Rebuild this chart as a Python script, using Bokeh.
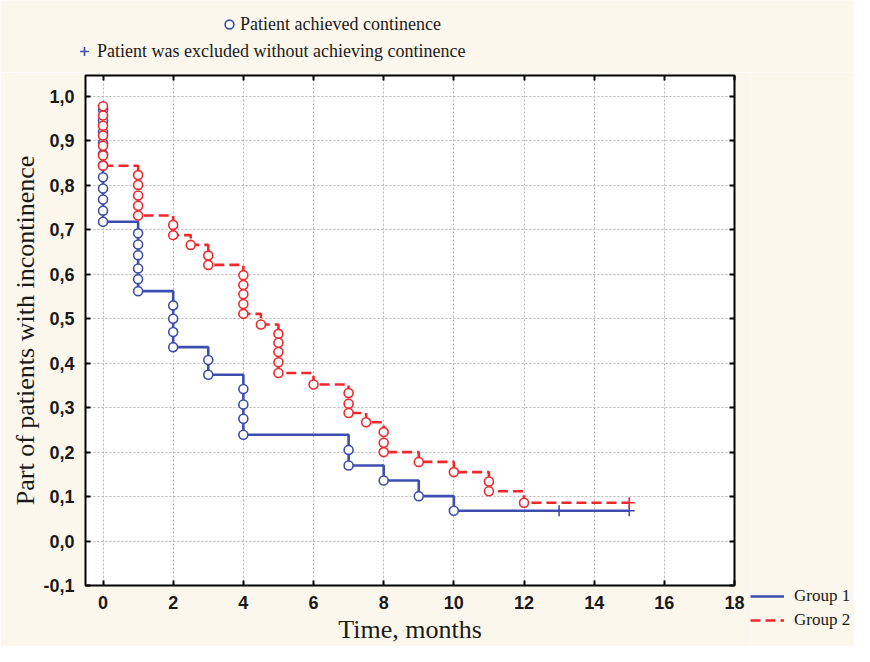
from bokeh.plotting import figure
from bokeh.layouts import column, row
from bokeh.models import (FixedTicker, LinearAxis, Range1d, Legend,
                          LegendItem, CustomJSTickFormatter)
from bokeh.embed import file_html
from bokeh.resources import INLINE

# ---------------- data ----------------
x_ticks = [0, 2, 4, 6, 8, 10, 12, 14, 16, 18]
x_tick_labels = ["0", "2", "4", "6", "8", "10", "12", "14", "16", "18"]
y_ticks = [-0.1, 0.0, 0.1, 0.2, 0.3, 0.4, 0.5, 0.6, 0.7, 0.8, 0.9, 1.0]
y_tick_labels = ["-0,1", "0,0", "0,1", "0,2", "0,3", "0,4", "0,5", "0,6",
                 "0,7", "0,8", "0,9", "1,0"]

# Group 1: step curve (time, proportion after the step)
g1_step_time = [0, 0, 1, 2, 3, 4, 7, 8, 9, 10, 15]
g1_step_surv = [0.970, 0.718, 0.562, 0.436, 0.374, 0.239, 0.170, 0.136,
                0.101, 0.068, 0.068]
# Group 1: patients achieving continence (circles)
g1_event_time = [0] * 11 + [1] * 6 + [2] * 4 + [3] * 2 + [4] * 4 + [7] * 2 + [8, 9, 10]
g1_event_surv = [0.970, 0.945, 0.920, 0.895, 0.870, 0.845, 0.818, 0.793, 0.768, 0.743, 0.718,
                 0.692, 0.667, 0.643, 0.613, 0.589, 0.562,
                 0.530, 0.500, 0.470, 0.436,
                 0.407, 0.374,
                 0.342, 0.307, 0.275, 0.239,
                 0.205, 0.170,
                 0.136, 0.101, 0.068]
# Group 1: excluded (censored)
g1_cens_time = [13, 15]
g1_cens_surv = [0.068, 0.068]

# Group 2: step curve
g2_step_time = [0, 0, 1, 2, 2.5, 3, 4, 4.5, 5, 6, 7, 7.5, 8, 9, 10, 11, 12, 15]
g2_step_surv = [0.978, 0.844, 0.732, 0.688, 0.666, 0.621, 0.511, 0.487, 0.378,
                0.352, 0.288, 0.267, 0.200, 0.178, 0.155, 0.112, 0.086, 0.086]
g2_event_time = ([0] * 7 + [1] * 5 + [2] * 2 + [2.5] + [3] * 2 + [4] * 5 + [4.5]
                 + [5] * 5 + [6] + [7] * 3 + [7.5] + [8] * 3 + [9, 10] + [11] * 2 + [12])
g2_event_surv = [0.978, 0.957, 0.934, 0.912, 0.889, 0.867, 0.844,
                 0.823, 0.801, 0.777, 0.754, 0.732,
                 0.711, 0.688,
                 0.666,
                 0.642, 0.621,
                 0.598, 0.576, 0.555, 0.533, 0.511,
                 0.487,
                 0.466, 0.446, 0.425, 0.402, 0.378,
                 0.352,
                 0.333, 0.309, 0.288,
                 0.267,
                 0.245, 0.221, 0.200,
                 0.178, 0.155,
                 0.134, 0.112,
                 0.086]
g2_cens_time = [15]
g2_cens_surv = [0.086]

group_names = ["Group 1", "Group 2"]
marker_names = ["Patient achieved continence",
                "Patient was excluded without achieving continence"]
x_title = "Time, months"
y_title = "Part of patients with incontinence"

# ---------------- style ----------------
BLUE = "#3D4FAE"
RED = "#F0282C"
CREAM = "#FBF7EC"
SERIF = "Liberation Serif"
SANS = "Liberation Sans"
INK = "#1a1a1a"
LINE_W = 2.6
DASH = "10 5"

# ---------------- main plot ----------------
p = figure(width=750, height=574,
           x_range=Range1d(-0.5, 18), y_range=Range1d(-0.1, 1.047),
           output_backend="svg", toolbar_location=None,
           min_border_left=85, min_border_right=16,
           min_border_top=3, min_border_bottom=60,
           background_fill_color="white", border_fill_color=CREAM,
           outline_line_color="black", outline_line_width=2)

fmt_js = """
for (let i = 0; i < tvals.length; i++) {
  if (Math.abs(tick - tvals[i]) < 1e-9) { return tlabels[i]; }
}
return "";
"""
xfmt = CustomJSTickFormatter(args=dict(tvals=x_ticks, tlabels=x_tick_labels), code=fmt_js)
yfmt = CustomJSTickFormatter(args=dict(tvals=y_ticks, tlabels=y_tick_labels), code=fmt_js)
blank_fmt = CustomJSTickFormatter(code="return '';")


def style_axis(ax, ticks, fmt):
    ax.ticker = FixedTicker(ticks=ticks)
    ax.formatter = fmt
    ax.axis_line_color = None
    ax.major_tick_in = 5
    ax.major_tick_out = 0
    ax.major_tick_line_color = "black"
    ax.major_tick_line_width = 2
    ax.minor_tick_line_color = None
    ax.major_label_text_font = SANS
    ax.major_label_text_font_style = "bold"
    ax.major_label_text_color = INK
    ax.major_label_text_font_size = "18px"
    ax.axis_label_text_font = SERIF
    ax.axis_label_text_font_style = "normal"
    ax.axis_label_text_font_size = "26px"
    ax.axis_label_text_color = INK


xa = p.xaxis[0]
style_axis(xa, x_ticks, xfmt)
xa.major_label_standoff = 10
xa.axis_label = x_title
xa.axis_label_standoff = 3

ya = p.yaxis[0]
style_axis(ya, y_ticks, yfmt)
ya.major_label_standoff = 11
ya.axis_label = y_title
ya.axis_label_standoff = 0

top_ax = LinearAxis()
style_axis(top_ax, x_ticks, blank_fmt)
top_ax.major_label_standoff = 0
p.add_layout(top_ax, "above")
right_ax = LinearAxis()
style_axis(right_ax, y_ticks, blank_fmt)
right_ax.major_label_standoff = 0
p.add_layout(right_ax, "right")

p.xgrid.ticker = FixedTicker(ticks=x_ticks)
p.ygrid.ticker = FixedTicker(ticks=y_ticks)
for g in (p.xgrid[0], p.ygrid[0]):
    g.grid_line_color = "#B5B5B5"
    g.grid_line_dash = "2 2"
    g.grid_line_width = 1

g1_line = p.step(x=g1_step_time, y=g1_step_surv, mode="after",
                 line_color=BLUE, line_width=LINE_W)
g1_circ = p.scatter(x=g1_event_time, y=g1_event_surv, marker="circle", size=9,
                    line_color=BLUE, line_width=1.6, fill_color="white")
g1_cross = p.scatter(x=g1_cens_time, y=g1_cens_surv, marker="cross", size=11,
                     line_color=BLUE, line_width=1.6)

g2_line = p.step(x=g2_step_time, y=g2_step_surv, mode="after",
                 line_color=RED, line_width=LINE_W, line_dash=DASH)
g2_circ = p.scatter(x=g2_event_time, y=g2_event_surv, marker="circle", size=9,
                    line_color=RED, line_width=1.6, fill_color="white")
g2_cross = p.scatter(x=g2_cens_time, y=g2_cens_surv, marker="cross", size=11,
                     line_color=RED, line_width=1.6)


def strip(width, height):
    return figure(width=width, height=height, x_range=Range1d(-0.5, 18),
                  y_range=Range1d(-0.1, 1.047), x_axis_type=None, y_axis_type=None,
                  output_backend="svg", toolbar_location=None,
                  min_border=0, background_fill_color=CREAM, border_fill_color=CREAM,
                  outline_line_color=None)


def make_legend(items, loc, glyph_w, glyph_h, standoff, font_size, spacing=0):
    return Legend(items=items, location=loc, orientation="vertical",
                  background_fill_alpha=0, border_line_color=None,
                  inactive_fill_alpha=0,
                  padding=0, margin=0, spacing=spacing,
                  glyph_width=glyph_w, glyph_height=glyph_h,
                  label_standoff=standoff, label_height=glyph_h,
                  label_text_font=SERIF, label_text_font_size=font_size,
                  label_text_color=INK)


# ---------------- marker key (top strip) ----------------
# key renderers repeat the series styles; they are hidden and only feed the key
top = strip(854, 72)
key_circ = top.scatter(x=g1_event_time, y=g1_event_surv, marker="circle",
                       line_color=BLUE, line_width=1.6, fill_color="white", visible=False)
key_cross = top.scatter(x=g1_cens_time, y=g1_cens_surv, marker="cross",
                        line_color=BLUE, line_width=1.6, visible=False)
top.add_layout(make_legend([LegendItem(label=marker_names[0], renderers=[key_circ])],
                           (218, 37), 22, 22, 0, "18px"))
top.add_layout(make_legend([LegendItem(label=marker_names[1], renderers=[key_cross])],
                           (73, 10), 22, 22, 2, "18px"))

# ---------------- group key (right strip) ----------------
side = strip(104, 574)
key_g1 = side.line(x=g1_step_time, y=g1_step_surv, line_color=BLUE,
                   line_width=LINE_W, visible=False)
key_g2 = side.line(x=g2_step_time, y=g2_step_surv, line_color=RED,
                   line_width=LINE_W, line_dash=DASH, visible=False)
side.add_layout(make_legend([LegendItem(label=group_names[0], renderers=[key_g1]),
                             LegendItem(label=group_names[1], renderers=[key_g2])],
                            (0, 16), 34, 20, 10, "17px", spacing=4))

layout = column(top, row(p, column(side, spacing=0), spacing=0), spacing=0)
open("out.html", "w").write(file_html(layout, INLINE))
